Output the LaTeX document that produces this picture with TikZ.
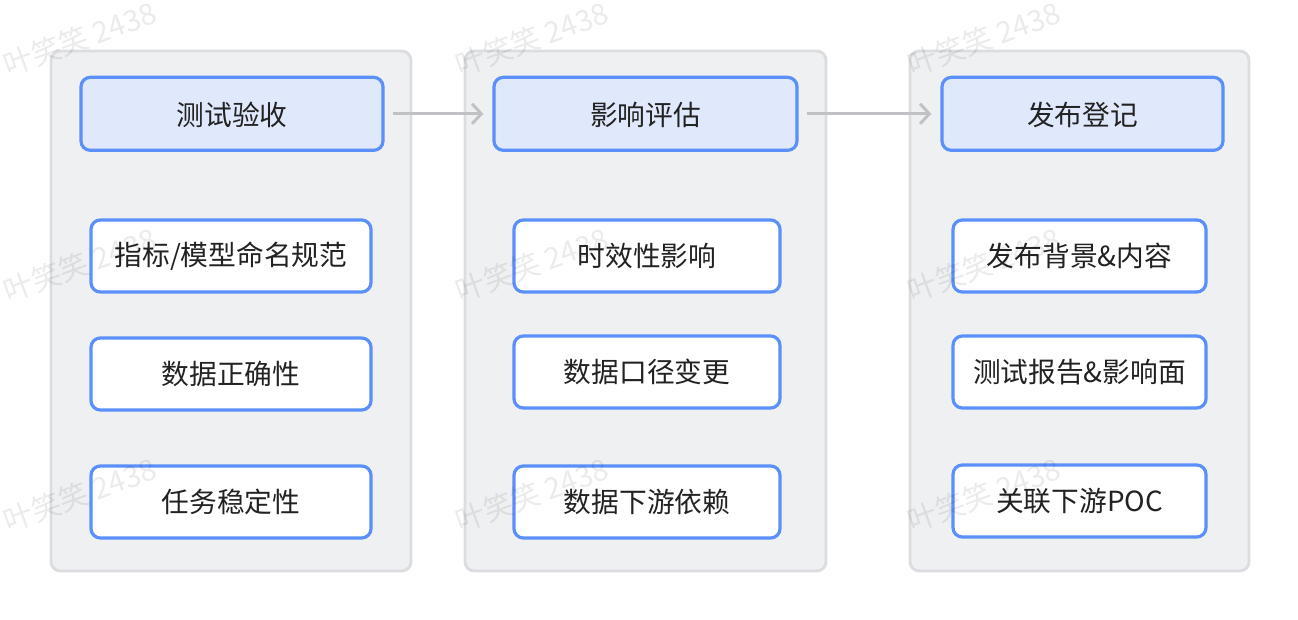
\documentclass[tikz,border=0pt]{standalone}
\usepackage{fontspec}
\setmainfont{Noto Sans CJK SC}
\usetikzlibrary{arrows.meta}
\definecolor{panelfill}{HTML}{EFF0F2}
\definecolor{paneldraw}{HTML}{DCDDE0}
\definecolor{headfill}{HTML}{E0E8FB}
\definecolor{blueline}{HTML}{5B8FF9}
\definecolor{arrowgray}{HTML}{BFC1C4}
\definecolor{txt}{HTML}{222222}
\tikzset{
  panel/.style={draw=paneldraw, fill=panelfill, line width=2.2pt, rounded corners=7pt},
  headbox/.style={draw=blueline, fill=headfill, line width=2.4pt, rounded corners=7pt, text=txt, font=\fontsize{20.8}{24}\selectfont, inner sep=0pt, text depth=0pt, yshift=-1pt},
  itembox/.style={draw=blueline, fill=white, line width=2.4pt, rounded corners=7pt, text=txt, font=\fontsize{20.8}{24}\selectfont, inner sep=0pt},
  flow/.style={draw=arrowgray, line width=2.2pt, -{Straight Barb[length=7pt, width=15pt, line width=2.2pt]}},
  wmark/.style={text=black, text opacity=0.08, font=\fontsize{22}{26}\selectfont, rotate=20, inner sep=0pt}
}
\begin{document}
\begin{tikzpicture}[x=0.75pt, y=-0.75pt]
\useasboundingbox (0,0) rectangle (1298,620);
% panels
\draw[panel] (51,51) rectangle (411,571);
\draw[panel] (465,51) rectangle (826,571);
\draw[panel] (910,51) rectangle (1249,571);
% headers
\node[headbox, minimum width=302*0.75pt, minimum height=73*0.75pt] (h1) at (232,112.5) {测试验收};
\node[headbox, minimum width=303*0.75pt, minimum height=73*0.75pt] (h2) at (645.5,112.5) {影响评估};
\node[headbox, minimum width=281*0.75pt, minimum height=73*0.75pt] (h3) at (1082.5,112.5) {发布登记};
% items column 1
\node[itembox, minimum width=280*0.75pt, minimum height=72*0.75pt] (a1) at (231,256) {指标/模型命名规范};
\node[itembox, minimum width=280*0.75pt, minimum height=72*0.75pt] (a2) at (231,374) {数据正确性};
\node[itembox, minimum width=280*0.75pt, minimum height=72*0.75pt] (a3) at (231,502) {任务稳定性};
% items column 2
\node[itembox, minimum width=266*0.75pt, minimum height=72*0.75pt] (b1) at (647,256) {时效性影响};
\node[itembox, minimum width=266*0.75pt, minimum height=72*0.75pt] (b2) at (647,372) {数据口径变更};
\node[itembox, minimum width=266*0.75pt, minimum height=72*0.75pt] (b3) at (647,502) {数据下游依赖};
% items column 3
\node[itembox, minimum width=253*0.75pt, minimum height=72*0.75pt] (c1) at (1079.5,256) {发布背景\&内容};
\node[itembox, minimum width=253*0.75pt, minimum height=72*0.75pt] (c2) at (1079.5,372) {测试报告\&影响面};
\node[itembox, minimum width=253*0.75pt, minimum height=72*0.75pt] (c3) at (1079.5,501) {关联下游POC};
% arrows
\draw[flow] ([xshift=8*0.75pt]h1.east) -- ([xshift=-9*0.75pt]h2.west);
\draw[flow] ([xshift=8*0.75pt]h2.east) -- ([xshift=-9*0.75pt]h3.west);
% watermarks
\foreach \wx/\wn in {80/1,532/2,984/3}{
  \foreach \wy/\wm in {39/1,265/2,495/3}{
    \node[wmark] (wm\wn\wm) at (\wx,\wy) {叶笑笑 2438};
  }
}
\end{tikzpicture}
\end{document}
